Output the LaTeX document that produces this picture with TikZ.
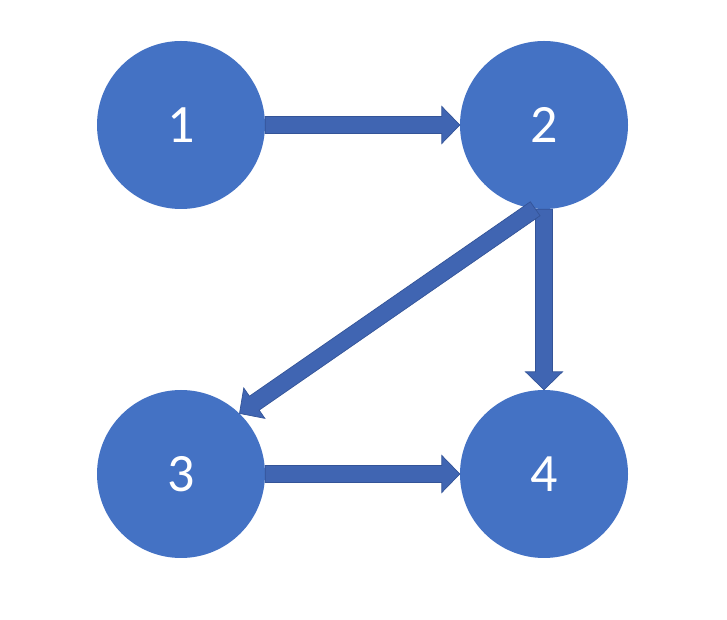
\documentclass[tikz,border=0pt]{standalone}
\usepackage{fontspec}
\setmainfont{Carlito}
\usetikzlibrary{calc}
\definecolor{circfill}{HTML}{4472C4}
\definecolor{arrfill}{RGB}{64,101,178}
\definecolor{arrline}{RGB}{52,84,152}
\tikzset{
  vertex/.style={circle, fill=circfill, minimum size=168pt, inner sep=0pt, text=white,
    font=\fontsize{54}{60}\selectfont},
  blockarrow/.style={fill=arrfill, draw=arrline, line width=0.7pt, line join=miter,
    to path={let \p1=(\tikztostart), \p2=(\tikztotarget),
      \n1={atan2(\y2-\y1,\x2-\x1)}, \n2={veclen(\x2-\x1,\y2-\y1)}, \n3={\n2-18} in
      (\p1) ++({\n1+90}:8.5pt) -- ++(\n1:\n3) -- ++({\n1+90}:10pt) -- (\p2)
      -- ($(\p2)+({\n1+180}:18pt)+({\n1-90}:18.5pt)$) -- ++({\n1+90}:10pt)
      -- ++({\n1+180}:\n3) -- cycle}}
}
\begin{document}
\begin{tikzpicture}[x=1pt,y=1pt]
\useasboundingbox (0,0) rectangle (727,620);
\node[vertex] (n1) at (181,495) {1};
\node[vertex] (n2) at (544,495) {2};
\node[vertex] (n3) at (181,146) {3};
\node[vertex] (n4) at (544,146) {4};
\path[blockarrow] (n1.east) to (n2.west);
\path[blockarrow] (n3.east) to (n4.west);
\path[blockarrow] (n2.south) to (n4.north);
\path[blockarrow] (n2.264) to (n3.46);
\end{tikzpicture}
\end{document}
